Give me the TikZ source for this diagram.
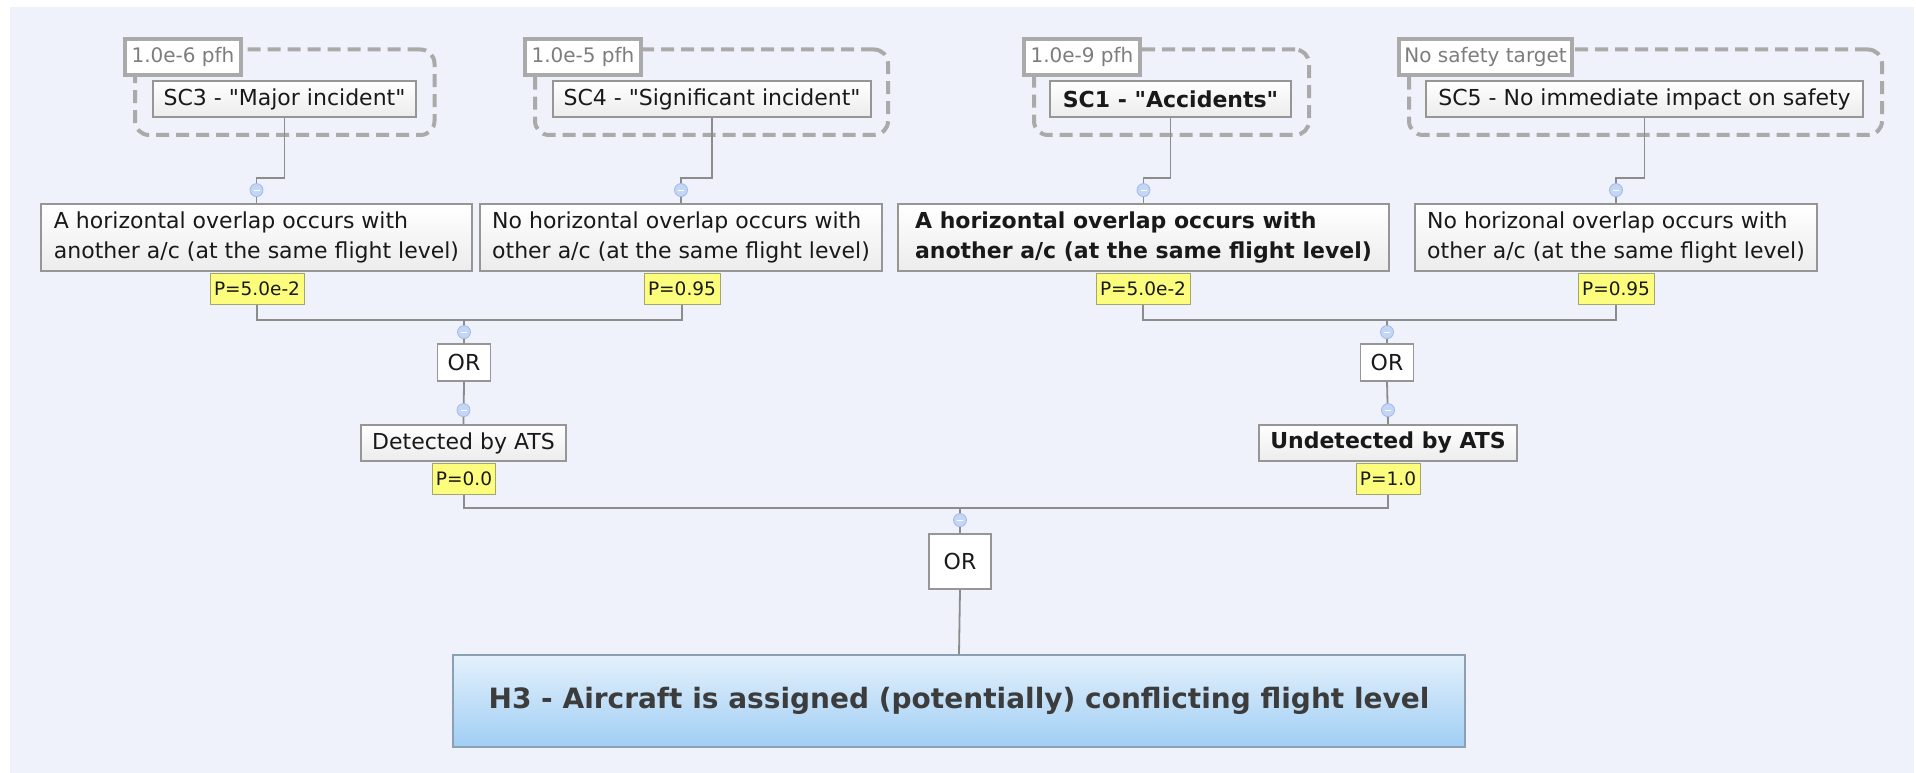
\documentclass[tikz,border=0pt]{standalone}
\usepackage{fontspec}
\setmainfont{DejaVu Sans}
% a second handle on the same family, without the TeX quote mapping,
% so that " prints as a straight double quote
\newfontfamily\dvsans{DejaVu Sans}
\definecolor{panel}{RGB}{239,242,251}
\definecolor{boxline}{RGB}{150,150,150}
\definecolor{boxbot}{RGB}{236,236,236}
\definecolor{txt}{RGB}{25,25,25}
\definecolor{labline}{RGB}{170,170,170}
\definecolor{labtxt}{RGB}{125,125,125}
\definecolor{connc}{RGB}{140,140,140}
\definecolor{pyellow}{RGB}{252,252,125}
\definecolor{pline}{RGB}{165,165,110}
\definecolor{tgfill}{RGB}{196,214,245}
\definecolor{tgline}{RGB}{160,185,232}
\definecolor{htop}{RGB}{228,241,252}
\definecolor{hbot}{RGB}{160,206,244}
\definecolor{hline}{RGB}{140,160,180}
\definecolor{htxt}{RGB}{60,60,60}
\begin{document}
\begin{tikzpicture}[x=1pt,y=-1pt,
  evbox/.style={draw=boxline, line width=1.8pt, top color=white, bottom color=boxbot,
    inner sep=0pt, text=txt, align=left, font=\dvsans\fontsize{22}{30}\selectfont},
  boldtext/.style={font=\dvsans\bfseries\fontsize{22}{30}\selectfont},
  orbox/.style={evbox, top color=white, bottom color=white},
  sclabel/.style={draw=labline, line width=4pt, fill=white, text=labtxt, inner sep=0pt,
    minimum height=36pt, font=\dvsans\fontsize{20}{24}\selectfont},
  scframe/.style={draw=labline, line width=4pt, dash pattern=on 13pt off 7pt,
    rounded corners=14pt, inner sep=0pt},
  pbox/.style={draw=pline, line width=1pt, fill=pyellow, text=txt, inner sep=0pt,
    minimum height=31pt, font=\dvsans\fontsize{18.5}{22}\selectfont},
  conn/.style={draw=connc, line width=1.8pt},
  tgl/.style={circle, draw=tgline, fill=tgfill, line width=0.8pt, minimum size=13pt, inner sep=0pt,
    path picture={\draw[white, line width=1.2pt]
      ([xshift=-3pt]path picture bounding box.center) -- ([xshift=3pt]path picture bounding box.center);}},
  h3box/.style={draw=hline, line width=1.5pt, top color=htop, bottom color=hbot, text=htxt,
    inner sep=0pt, font=\dvsans\bfseries\fontsize{28}{32}\selectfont}
]
\useasboundingbox (0,0) rectangle (1916,773);
\fill[white] (0,0) rectangle (1916,773);
\fill[panel] (10,7) rectangle (1914,773);

% consequence groups: dashed frame, severity node, target label
\node[scframe, minimum width=299.5pt, minimum height=85.5pt] (f3) at (284.75,92.25) {};
\node[scframe, minimum width=353pt, minimum height=85.5pt] (f4) at (711.5,92.25) {};
\node[scframe, minimum width=275pt, minimum height=85.5pt] (f1) at (1171.5,92.25) {};
\node[scframe, minimum width=473pt, minimum height=85.5pt] (f5) at (1645.5,92.25) {};

\node[evbox, minimum width=263pt, minimum height=36pt] (sc3) at (284.5,99) {SC3 - "Major incident"};
\node[evbox, minimum width=318pt, minimum height=36pt] (sc4) at (712,99) {SC4 - "Significant incident"};
\node[evbox, boldtext, minimum width=241pt, minimum height=36pt] (sc1) at (1170.5,99) {SC1 - "Accidents"};
\node[evbox, minimum width=437pt, minimum height=36pt] (sc5) at (1644.5,99) {SC5 - No immediate impact on safety};

\node[sclabel, minimum width=116pt] (lab3) at (183,57) {1.0e-6 pfh};
\node[sclabel, minimum width=116pt] (lab4) at (583,57) {1.0e-5 pfh};
\node[sclabel, minimum width=116pt] (lab1) at (1082,57) {1.0e-9 pfh};
\node[sclabel, minimum width=173pt] (lab5) at (1485.5,57) {No safety target};

% overlap events
\node[evbox, minimum width=431pt, minimum height=67pt] (ea) at (256.5,237.5)
  {A horizontal overlap occurs with\\another a/c (at the same flight level)};
\node[evbox, minimum width=402pt, minimum height=67pt] (eb) at (681,237.5)
  {No horizontal overlap occurs with\\other a/c (at the same flight level)};
\node[evbox, boldtext, minimum width=491pt, minimum height=67pt] (ec) at (1143.5,237.5)
  {A horizontal overlap occurs with\\another a/c (at the same flight level)};
\node[evbox, minimum width=402pt, minimum height=67pt] (ed) at (1616,237.5)
  {No horizonal overlap occurs with\\other a/c (at the same flight level)};

\node[pbox, minimum width=94pt] (pa) at (257,289) {P=5.0e-2};
\node[pbox, minimum width=76pt] (pb) at (682,289) {P=0.95};
\node[pbox, minimum width=94pt] (pc) at (1143,289) {P=5.0e-2};
\node[pbox, minimum width=76pt] (pd) at (1616,289) {P=0.95};

% gates and detection events
\node[orbox, minimum width=53pt, minimum height=37pt] (orl) at (464,362.5) {OR};
\node[orbox, minimum width=53pt, minimum height=37pt] (orr) at (1387,362.5) {OR};

\node[evbox, minimum width=205pt, minimum height=36pt] (det) at (463.5,443) {Detected by ATS};
\node[evbox, boldtext, minimum width=258pt, minimum height=36pt] (und) at (1388,443) {Undetected by ATS};

\node[pbox, minimum width=63pt] (p0) at (464,478.5) {P=0.0};
\node[pbox, minimum width=64pt] (p1) at (1388,478.5) {P=1.0};

\node[orbox, minimum width=62pt, minimum height=55pt] (orb) at (960,561.5) {OR};

\node[h3box, minimum width=1012pt, minimum height=92pt] (h3) at (959,701)
  {H3 - Aircraft is assigned (potentially) conflicting flight level};

% junction points of the buses
\coordinate (busl) at (464,320);
\coordinate (busr) at (1387,320);
\coordinate (busb) at (960,508);

% connectors
\draw[conn] (ea.north) -- ++(0,-25) -| (sc3.south);
\draw[conn] (eb.north) -- ++(0,-25) -| (sc4.south);
\draw[conn] (ec.north) -- ++(0,-25) -| (sc1.south);
\draw[conn] (ed.north) -- ++(0,-25) -| (sc5.south);

\draw[conn] (pa.south) |- (busl) -| (pb.south);
\draw[conn] (pc.south) |- (busr) -| (pd.south);
\draw[conn] (busl) -- (orl.north);
\draw[conn] (busr) -- (orr.north);
\draw[conn] (orl.south) -- (det.north);
\draw[conn] (orr.south) -- (und.north);
\draw[conn] (p0.south) |- (busb) -| (p1.south);
\draw[conn] (busb) -- (orb.north);
\draw[conn] (orb.south) -- (h3.north);

% collapse toggles
\node[tgl] (ta) at ([yshift=13pt]ea.north) {};
\node[tgl] (tb) at ([yshift=13pt]eb.north) {};
\node[tgl] (tc) at ([yshift=13pt]ec.north) {};
\node[tgl] (td) at ([yshift=13pt]ed.north) {};
\node[tgl] (tl) at ([yshift=11pt]orl.north) {};
\node[tgl] (tr) at ([yshift=11pt]orr.north) {};
\node[tgl] (tdet) at ([yshift=14pt]det.north) {};
\node[tgl] (tund) at ([yshift=14pt]und.north) {};
\node[tgl] (tb2) at ([yshift=13pt]orb.north) {};
\end{tikzpicture}
\end{document}
